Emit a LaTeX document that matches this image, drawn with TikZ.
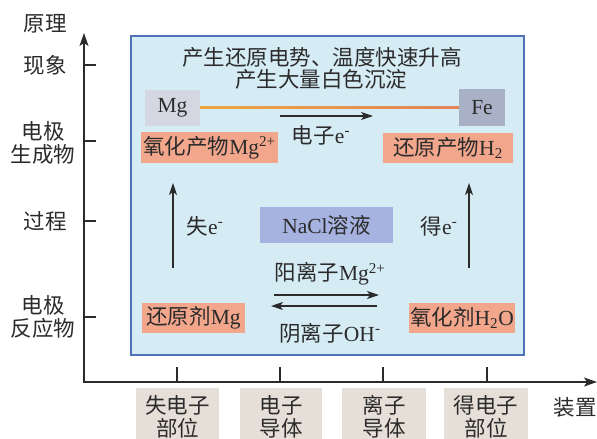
\documentclass[tikz,border=0pt]{standalone}
\usepackage{fontspec}
\setmainfont{Liberation Serif}
\newfontfamily\cjk{Noto Sans CJK SC}
\usetikzlibrary{arrows.meta,calc}
\definecolor{txt}{HTML}{2B2B2B}
\definecolor{panel}{HTML}{D6ECF5}
\definecolor{panelborder}{HTML}{4F72B8}
\definecolor{salmon}{HTML}{F2A68C}
\definecolor{mgc}{HTML}{D4D6E2}
\definecolor{fec}{HTML}{A8B1C6}
\definecolor{naclc}{HTML}{A6B2DF}
\definecolor{beige}{HTML}{E5DFD7}
\definecolor{wireL}{HTML}{EDA640}
\definecolor{wireR}{HTML}{E3845A}
\tikzset{
  box/.style={rectangle, inner sep=0pt, text=txt, align=center},
  lbl/.style={inner sep=0pt, text=txt, align=center},
  arr/.style={line width=1.3pt, draw=txt, -{Stealth[length=12pt,width=8pt,inset=3pt]}},
  tick/.style={line width=1.4pt, draw=txt},
}
\begin{document}
\begin{tikzpicture}[x=1pt,y=-1pt, font=\fontsize{21.5}{23}\selectfont]
\useasboundingbox (0,0) rectangle (597,439);
% panel
\node[box, fill=panel, draw=panelborder, line width=2pt, minimum width=393pt, minimum height=319pt] (panel) at (327.5,195.5) {};
% axes
\coordinate (ytop) at (84,33);
\coordinate (origin) at (84,382);
\coordinate (xend) at (597,382);
\draw[line width=1.4pt, draw=txt, {Stealth[length=13pt,width=9pt,inset=3pt]}-{Stealth[length=13pt,width=9pt,inset=3pt]}] (ytop) -- (origin) -- (xend);
% y ticks
\foreach \yy/\nm in {65/ya,141/yb,221/yc,317/yd}{
  \coordinate (\nm0) at (84,\yy);
  \coordinate (\nm1) at (96,\yy);
  \draw[tick] (\nm0) -- (\nm1);
}
% x ticks
\foreach \xx/\nm in {177/xa,280/xb,383/xc,487/xd}{
  \coordinate (\nm0) at (\xx,382);
  \coordinate (\nm1) at (\xx,367);
  \draw[tick] (\nm0) -- (\nm1);
}
% axis labels
\node[lbl] (yl0) at (45,24) {\cjk 原理};
\node[lbl] (yl1) at (45,65) {\cjk 现象};
\node[lbl] (yl2) at (43,143) {\cjk 电极\\\cjk 生成物};
\node[lbl] (yl3) at (45,221) {\cjk 过程};
\node[lbl] (yl4) at (43,317) {\cjk 电极\\\cjk 反应物};
\node[lbl] (xl) at (575,407) {\cjk 装置};
% bottom boxes
\node[box, fill=beige, minimum width=83pt, minimum height=57pt] (b1) at (177.5,416.5) {\cjk 失电子\\\cjk 部位};
\node[box, fill=beige, minimum width=82pt, minimum height=57pt] (b2) at (281,416.5) {\cjk 电子\\\cjk 导体};
\node[box, fill=beige, minimum width=84pt, minimum height=57pt] (b3) at (384,416.5) {\cjk 离子\\\cjk 导体};
\node[box, fill=beige, minimum width=84pt, minimum height=57pt] (b4) at (486,416.5) {\cjk 得电子\\\cjk 部位};
% title
\node[lbl] (t1) at (322,57) {\cjk 产生还原电势、温度快速升高};
\node[lbl] (t2) at (321,79) {\cjk 产生大量白色沉淀};
% electrodes
\node[box, fill=mgc, minimum width=55pt, minimum height=36pt] (mg) at (172.5,108) {Mg};
\node[box, fill=fec, minimum width=46pt, minimum height=37pt] (fe) at (482,107.5) {Fe};
\shade[left color=wireL, right color=wireR] ($(mg.east)+(0,-1.3)$) rectangle ($(fe.west)+(0,1.3)$);
% electron arrow
\coordinate (ea) at (280,116);
\coordinate (eb) at (373,116);
\draw[arr] (ea) -- (eb);
\node[lbl] (el) at (321,135) {{\cjk 电子}e\textsuperscript{-}};
% products
\node[box, fill=salmon, minimum width=137pt, minimum height=31pt] (oxp) at (209.5,147.5) {{\cjk 氧化产物}Mg\textsuperscript{2+}};
\node[box, fill=salmon, minimum width=130pt, minimum height=30pt] (redp) at (448,148) {{\cjk 还原产物}H\textsubscript{2}};
% vertical arrows
\coordinate (la) at (173,268);
\coordinate (lb) at (173,183);
\draw[arr] (la) -- (lb);
\coordinate (ra) at (469,268);
\coordinate (rb) at (469,183);
\draw[arr] (ra) -- (rb);
\node[lbl] (lose) at (205,226) {{\cjk 失}e\textsuperscript{-}};
\node[lbl] (gain) at (439,226) {{\cjk 得}e\textsuperscript{-}};
% NaCl
\node[box, fill=naclc, minimum width=133pt, minimum height=36pt] (nacl) at (326.5,225) {NaCl{\cjk 溶液}};
% ion arrows
\node[lbl] (cat) at (330,274) {{\cjk 阳离子}Mg\textsuperscript{2+}};
\coordinate (ca) at (274,295);
\coordinate (cb) at (379,295);
\draw[arr] (ca) -- (cb);
\coordinate (aa) at (377,306);
\coordinate (ab) at (271,306);
\draw[arr] (aa) -- (ab);
\node[lbl] (an) at (330,333) {{\cjk 阴离子}OH\textsuperscript{-}};
% reactants
\node[box, fill=salmon, minimum width=103pt, minimum height=30pt] (redag) at (193.5,318) {{\cjk 还原剂}Mg};
\node[box, fill=salmon, minimum width=106pt, minimum height=30pt] (oxag) at (462,318) {{\cjk 氧化剂}H\textsubscript{2}O};
\end{tikzpicture}
\end{document}
